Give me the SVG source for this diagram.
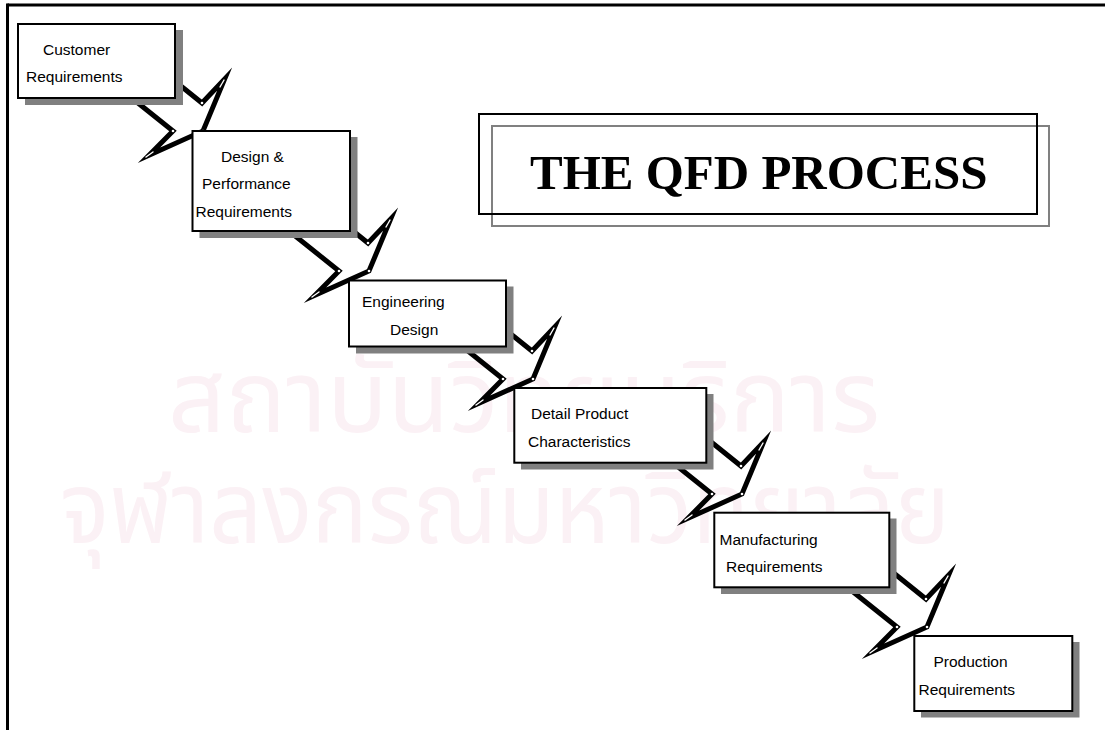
<svg xmlns="http://www.w3.org/2000/svg" xmlns:xlink="http://www.w3.org/1999/xlink" width="1105" height="730" viewBox="0 0 1105 730">
  <style>
    .frame { fill: none; stroke: #000; stroke-width: 3; }
    .box { fill: #fff; stroke: #000; stroke-width: 2; }
    .shadow { fill: #808080; }
    .label { font-family: "Liberation Sans", Arial, sans-serif; font-size: 15.5px; fill: #000; }
    .title { font-family: "Liberation Serif", "Times New Roman", serif; font-size: 49px; font-weight: bold; fill: #000; }
    .title-back { fill: none; stroke: #808080; stroke-width: 2; }
    .title-front { fill: none; stroke: #000; stroke-width: 2; }
    .bolt { fill: none; stroke: #000; stroke-width: 5; stroke-linejoin: miter; stroke-miterlimit: 10; }
    .glint { stroke: #fff; stroke-width: 1.4; stroke-linecap: round; }
    .mark { font-family: "Noto Sans Thai", "Noto Sans", "DejaVu Sans", sans-serif; font-size: 100px; fill: #fbf1f5; }
  </style>

  <defs>
    <!-- zig-zag step arrow, origin at its lower inner bend -->
    <g id="bolt">
      <polyline class="bolt" points="-70,-56 0,0 -24,24.3 30,0 51.6,-51.9 29,-28 -12,-61"/>
      <circle cx="0" cy="0" r="1.3" fill="#fff"/>
      <circle cx="30" cy="0" r="1.3" fill="#fff"/>
      <circle cx="29" cy="-28" r="1.3" fill="#fff"/>
      <line class="glint" x1="-27" y1="26" x2="-20" y2="21"/>
      <line class="glint" x1="51" y1="-51" x2="47" y2="-44"/>
    </g>
  </defs>

  <rect width="1105" height="730" fill="#fff"/>

  <!-- faint background lettering -->
  <g id="watermark">
    <text class="mark" x="168" y="432" textLength="712" lengthAdjust="spacingAndGlyphs">สถาบันวิทยบริการ</text>
    <text class="mark" x="60" y="543" textLength="890" lengthAdjust="spacingAndGlyphs">จุฬาลงกรณ์มหาวิทยาลัย</text>
  </g>

  <!-- page frame -->
  <g id="frame">
    <line class="frame" x1="7.5" y1="5" x2="1105" y2="5"/>
    <line class="frame" x1="7.5" y1="3.5" x2="7.5" y2="730"/>
  </g>

  <!-- title -->
  <g id="title">
    <rect class="title-back" x="492" y="126" width="557" height="100"/>
    <rect class="title-front" x="479" y="114" width="558" height="100"/>
    <text class="title" x="530" y="189">THE QFD PROCESS</text>
  </g>

  <!-- step connectors -->
  <g id="connectors">
    <use xlink:href="#bolt" href="#bolt" x="173" y="131"/>
    <use xlink:href="#bolt" href="#bolt" x="339" y="271"/>
    <use xlink:href="#bolt" href="#bolt" x="503" y="379"/>
    <use xlink:href="#bolt" href="#bolt" x="712" y="494"/>
    <use xlink:href="#bolt" href="#bolt" x="897" y="627"/>
  </g>

  <g id="customer-requirements">
    <rect class="shadow" x="25" y="30" width="158" height="75"/>
    <rect class="box" x="18" y="24" width="157" height="74"/>
    <text class="label" x="43" y="55">Customer</text>
    <text class="label" x="26" y="82">Requirements</text>
  </g>

  <g id="design-performance-requirements">
    <rect class="shadow" x="199.5" y="137" width="158" height="101"/>
    <rect class="box" x="192.5" y="131" width="157.5" height="100"/>
    <text class="label" x="221" y="161.5">Design &amp;</text>
    <text class="label" x="202" y="189">Performance</text>
    <text class="label" x="195.5" y="216.5">Requirements</text>
  </g>

  <g id="engineering-design">
    <rect class="shadow" x="356" y="286.5" width="157.5" height="67"/>
    <rect class="box" x="349" y="280.5" width="157" height="66"/>
    <text class="label" x="362" y="307">Engineering</text>
    <text class="label" x="390" y="335">Design</text>
  </g>

  <g id="detail-product-characteristics">
    <rect class="shadow" x="521" y="394" width="192.5" height="75.5"/>
    <rect class="box" x="514.3" y="388" width="192" height="74.7"/>
    <text class="label" x="531" y="419">Detail Product</text>
    <text class="label" x="528" y="446.5">Characteristics</text>
  </g>

  <g id="manufacturing-requirements">
    <rect class="shadow" x="721" y="518.5" width="175.5" height="75.5"/>
    <rect class="box" x="714.3" y="512.7" width="175" height="74.6"/>
    <text class="label" x="719.5" y="545">Manufacturing</text>
    <text class="label" x="726" y="572">Requirements</text>
  </g>

  <g id="production-requirements">
    <rect class="shadow" x="921" y="642" width="158.5" height="75.5"/>
    <rect class="box" x="914.3" y="636" width="158" height="75"/>
    <text class="label" x="933.5" y="667">Production</text>
    <text class="label" x="918.5" y="695">Requirements</text>
  </g>
</svg>
